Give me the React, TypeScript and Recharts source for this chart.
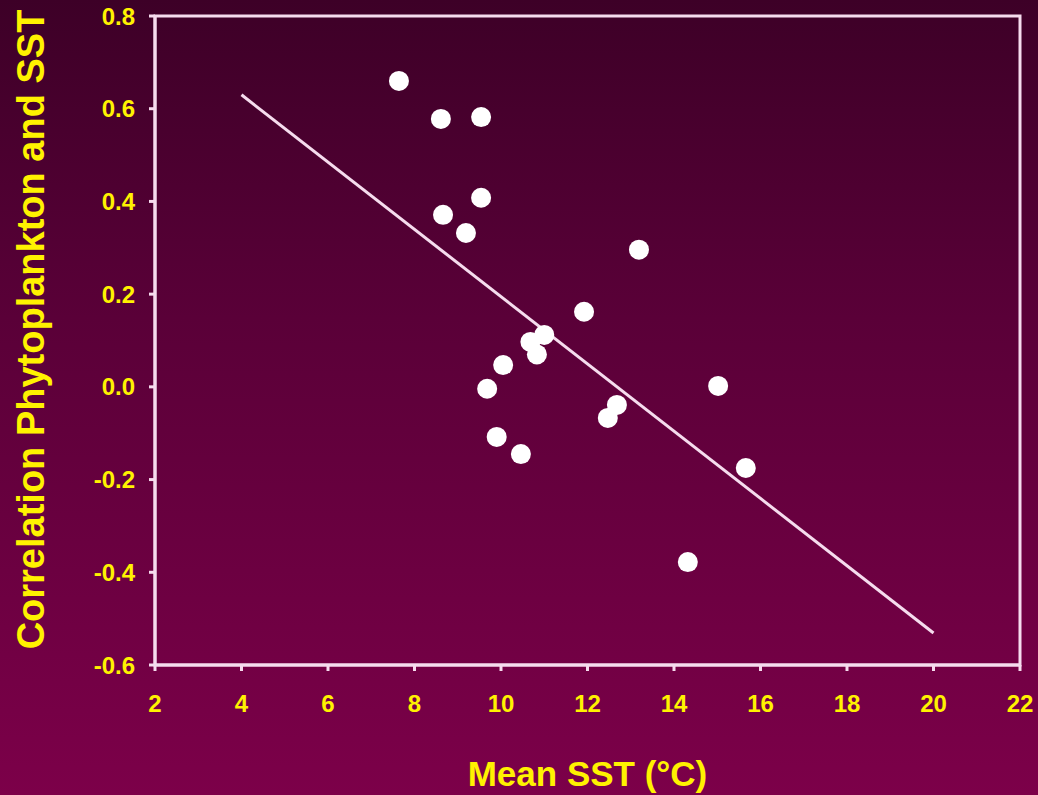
import React from 'react';
import {
    ScatterChart,
    Scatter,
    XAxis,
    YAxis,
    ReferenceLine,
    ReferenceArea
} from 'recharts';

// mean SST (°C) and correlation
const sstValues = [7.64, 8.61, 9.54, 8.66, 9.54, 9.19, 13.19, 11.92, 11.0, 10.68, 10.83, 10.05, 9.68, 15.02, 12.68, 12.47, 9.9, 10.46, 15.66, 14.32];
const corrValues = [0.66, 0.578, 0.582, 0.371, 0.408, 0.332, 0.296, 0.162, 0.112, 0.097, 0.07, 0.047, -0.004, 0.002, -0.039, -0.067, -0.108, -0.145, -0.175, -0.378];

const trendStart = { x: 4, y: 0.63 };
const trendEnd = { x: 20, y: -0.531 };

const xTicks = [2, 4, 6, 8, 10, 12, 14, 16, 18, 20, 22];
const yTicks = [-0.6, -0.4, -0.2, 0, 0.2, 0.4, 0.6, 0.8];

const points = sstValues.map((sst, i) => ({ sst, corr: corrValues[i] }));

const YELLOW = '#fff200';
const LINE = '#f6dcee';

const tickStyle = {
    fill: YELLOW,
    fontFamily: '"Liberation Sans", Arial, sans-serif',
    fontWeight: 'bold',
    fontSize: 24
};

const titleFont = {
    fill: YELLOW,
    fontFamily: '"Liberation Sans", Arial, sans-serif',
    fontWeight: 'bold'
};

const Dot = (props: any) => <circle cx={props.cx} cy={props.cy} r={10} fill="#ffffff" />;

export default function App() {
    return (
        <div
            style={{
                position: 'absolute',
                left: 0,
                top: 0,
                width: 1038,
                height: 795,
                background: 'linear-gradient(to bottom, #3d0027 0%, #5a0038 40%, #7c0049 100%)'
            }}
        >
            <ScatterChart width={1038} height={795} margin={{ top: 16, right: 18, left: 0, bottom: 0 }}>
                <XAxis
                    type="number"
                    dataKey="sst"
                    domain={[2, 22]}
                    ticks={xTicks}
                    allowDataOverflow
                    height={130}
                    tick={tickStyle}
                    tickSize={6}
                    tickMargin={24}
                    axisLine={{ stroke: LINE, strokeWidth: 3 }}
                    tickLine={{ stroke: LINE, strokeWidth: 3 }}
                    label={{
                        content: ({ viewBox }: any) => (
                            <text
                                x={viewBox.x + viewBox.width / 2}
                                y={viewBox.y + 108}
                                textAnchor="middle"
                                dominantBaseline="central"
                                style={{ ...titleFont, fontSize: 35 }}
                            >
                                Mean SST (°C)
                            </text>
                        )
                    }}
                />
                <YAxis
                    type="number"
                    dataKey="corr"
                    domain={[-0.6, 0.8]}
                    ticks={yTicks}
                    allowDataOverflow
                    width={155}
                    tick={tickStyle}
                    tickSize={6}
                    tickMargin={14}
                    tickFormatter={(v: number) => v.toFixed(1)}
                    axisLine={{ stroke: LINE, strokeWidth: 3 }}
                    tickLine={{ stroke: LINE, strokeWidth: 3 }}
                    label={{
                        content: ({ viewBox }: any) => {
                            const cy = viewBox.y + viewBox.height / 2 - 11;
                            return (
                                <text
                                    x={31}
                                    y={cy}
                                    transform={`rotate(-90, 31, ${cy})`}
                                    textAnchor="middle"
                                    dominantBaseline="central"
                                    style={{ ...titleFont, fontSize: 38 }}
                                >
                                    Correlation Phytoplankton and SST
                                </text>
                            );
                        }
                    }}
                />
                <ReferenceArea x1={2} x2={22} y1={-0.6} y2={0.8} fill="none" stroke={LINE} strokeWidth={3} />
                <ReferenceLine segment={[trendStart, trendEnd]} stroke={LINE} strokeWidth={3} />
                <Scatter data={points} shape={Dot} isAnimationActive={false} />
            </ScatterChart>
        </div>
    );
}
